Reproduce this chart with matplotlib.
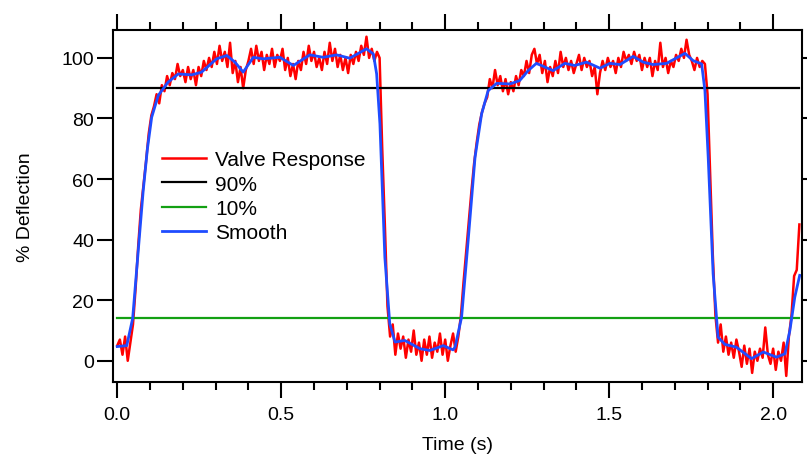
import numpy as np
import matplotlib.pyplot as plt
from matplotlib.ticker import MultipleLocator

dt = 0.008
red_vals = [
    5, 7, 2, 8, 0, 6, 12, 24, 38, 50,
    58, 66, 75, 81, 84, 88, 85, 91, 89, 94,
    91, 95, 93, 98, 94, 96, 92, 97, 93, 96,
    91, 97, 94, 99, 96, 100, 97, 102, 98, 104,
    99, 102, 97, 105, 95, 99, 92, 97, 90, 96,
    99, 103, 98, 104, 99, 102, 96, 101, 98, 103,
    97, 101, 99, 103, 96, 100, 94, 98, 93, 99,
    96, 102, 98, 104, 99, 102, 97, 100, 96, 102,
    98, 105, 99, 103, 97, 101, 96, 100, 95, 101,
    98, 102, 99, 104, 101, 107, 100, 103, 99, 102,
    100, 70, 45, 18, 8, 12, 2, 9, 4, 8,
    1, 7, 3, 10, 2, 6, 0, 7, 2, 8,
    1, 6, 3, 9, 2, 7, 0, 5, 9, 3,
    8, 15, 26, 36, 46, 56, 65, 72, 78, 82,
    85, 87, 93, 90, 96, 91, 94, 89, 93, 88,
    92, 89, 94, 91, 96, 94, 99, 95, 101, 103,
    98, 101, 95, 99, 92, 97, 94, 99, 95, 102,
    97, 100, 96, 99, 95, 98, 101, 96, 100, 97,
    99, 94, 97, 88, 95, 99, 96, 100, 97, 99,
    95, 100, 97, 102, 99, 101, 98, 102, 99, 101,
    96, 100, 97, 100, 94, 99, 96, 105, 97, 100,
    95, 99, 97, 101, 99, 103, 100, 106, 101, 99,
    96, 100, 97, 99, 98, 88, 62, 35, 15, 6,
    12, 3, 8, 2, 6, 1, 7, 3, -2, 5,
    -1, 4, -4, 3, 0, 4, 1, 11, 2, -1,
    4, -3, 3, 0, 6, -5, 8, 15, 28, 30, 45,
]
red_t = np.arange(len(red_vals)) * dt

# smoothed curve
smooth_t = [0, 0.029, 0.047, 0.063, 0.079, 0.092, 0.105, 0.125, 0.155, 0.186,
            0.227, 0.257, 0.303, 0.334, 0.359, 0.384, 0.415, 0.445, 0.496, 0.537,
            0.587, 0.628, 0.669, 0.709, 0.760, 0.781, 0.791, 0.801, 0.816, 0.831,
            0.847, 0.877, 0.923, 0.953, 0.994, 1.024, 1.030, 1.050, 1.070, 1.091,
            1.111, 1.131, 1.157, 1.197, 1.227, 1.253, 1.278, 1.329, 1.365, 1.395,
            1.431, 1.472, 1.502, 1.533, 1.573, 1.604, 1.634, 1.675, 1.731, 1.756,
            1.782, 1.792, 1.802, 1.817, 1.832, 1.853, 1.888, 1.934, 1.970, 2.010,
            2.036, 2.051, 2.066, 2.081]
smooth_v = [4.7, 5, 14, 35, 56, 70, 80.4, 87.6, 92, 94.7,
            94.4, 95.3, 99.7, 100.8, 98.6, 95.3, 100.2, 99.7, 100.2, 97.5,
            101, 100.2, 101, 99.9, 103, 101.3, 94.7, 78.2, 34.2, 12.2,
            6.2, 6.7, 4, 3.4, 5, 3.6, 4.5, 14.4, 39.7, 67.2,
            81.5, 89.2, 91.6, 91.4, 92.5, 95.8, 98.2, 95.8, 98.2, 97.5,
            98.6, 96.6, 98.2, 97.8, 100.5, 98.6, 97.8, 98.2, 101.5, 99.1,
            98, 89.2, 67.2, 28.7, 7.8, 5.4, 4.5, 0.7, 2.9, 1.2,
            2.3, 10, 21, 28.2]

level_90 = 90
level_10 = 14
level_t = [0, 2.08]

plt.rcParams['font.family'] = ['Liberation Sans', 'DejaVu Sans']

fig = plt.figure(figsize=(8.07, 4.64), dpi=100)
ax = fig.add_axes([0.140, 0.1746, 0.8538, 0.7585])

ax.plot(red_t, red_vals, color='#ff0000', lw=1.8, label='Valve Response')
ax.plot(level_t, [level_90, level_90], color='black', lw=1.6, label='90%')
ax.plot(level_t, [level_10, level_10], color='#13a013', lw=1.6, label='10%')
ax.plot(smooth_t, smooth_v, color='#1f4cff', lw=2, label='Smooth')

ax.set_xlim(-0.013, 2.088)
ax.set_ylim(-7, 109.2)
ax.xaxis.set_major_locator(MultipleLocator(0.5))
ax.xaxis.set_minor_locator(MultipleLocator(0.1))
ax.yaxis.set_major_locator(MultipleLocator(20))
ax.xaxis.set_major_formatter(plt.FormatStrFormatter('%.1f'))

for s in ax.spines.values():
    s.set_linewidth(1.5)
ax.tick_params(which='both', direction='out', top=True, right=True, width=1.5,
               labelsize=14)
ax.tick_params(which='major', length=11.5)
ax.tick_params(which='minor', length=6)
ax.tick_params(axis='x', pad=6)
ax.tick_params(axis='y', pad=2)

ax.set_xlabel('Time (s)', fontsize=14, labelpad=9)
ax.set_ylabel('% Deflection', fontsize=14, labelpad=20)

ax.legend(loc='upper left', bbox_to_anchor=(0.071, 0.658), frameon=False,
          fontsize=15, borderpad=0, borderaxespad=0, handlelength=2.1,
          handletextpad=0.45, labelspacing=0.25)

fig.savefig('out.png', dpi=100)
